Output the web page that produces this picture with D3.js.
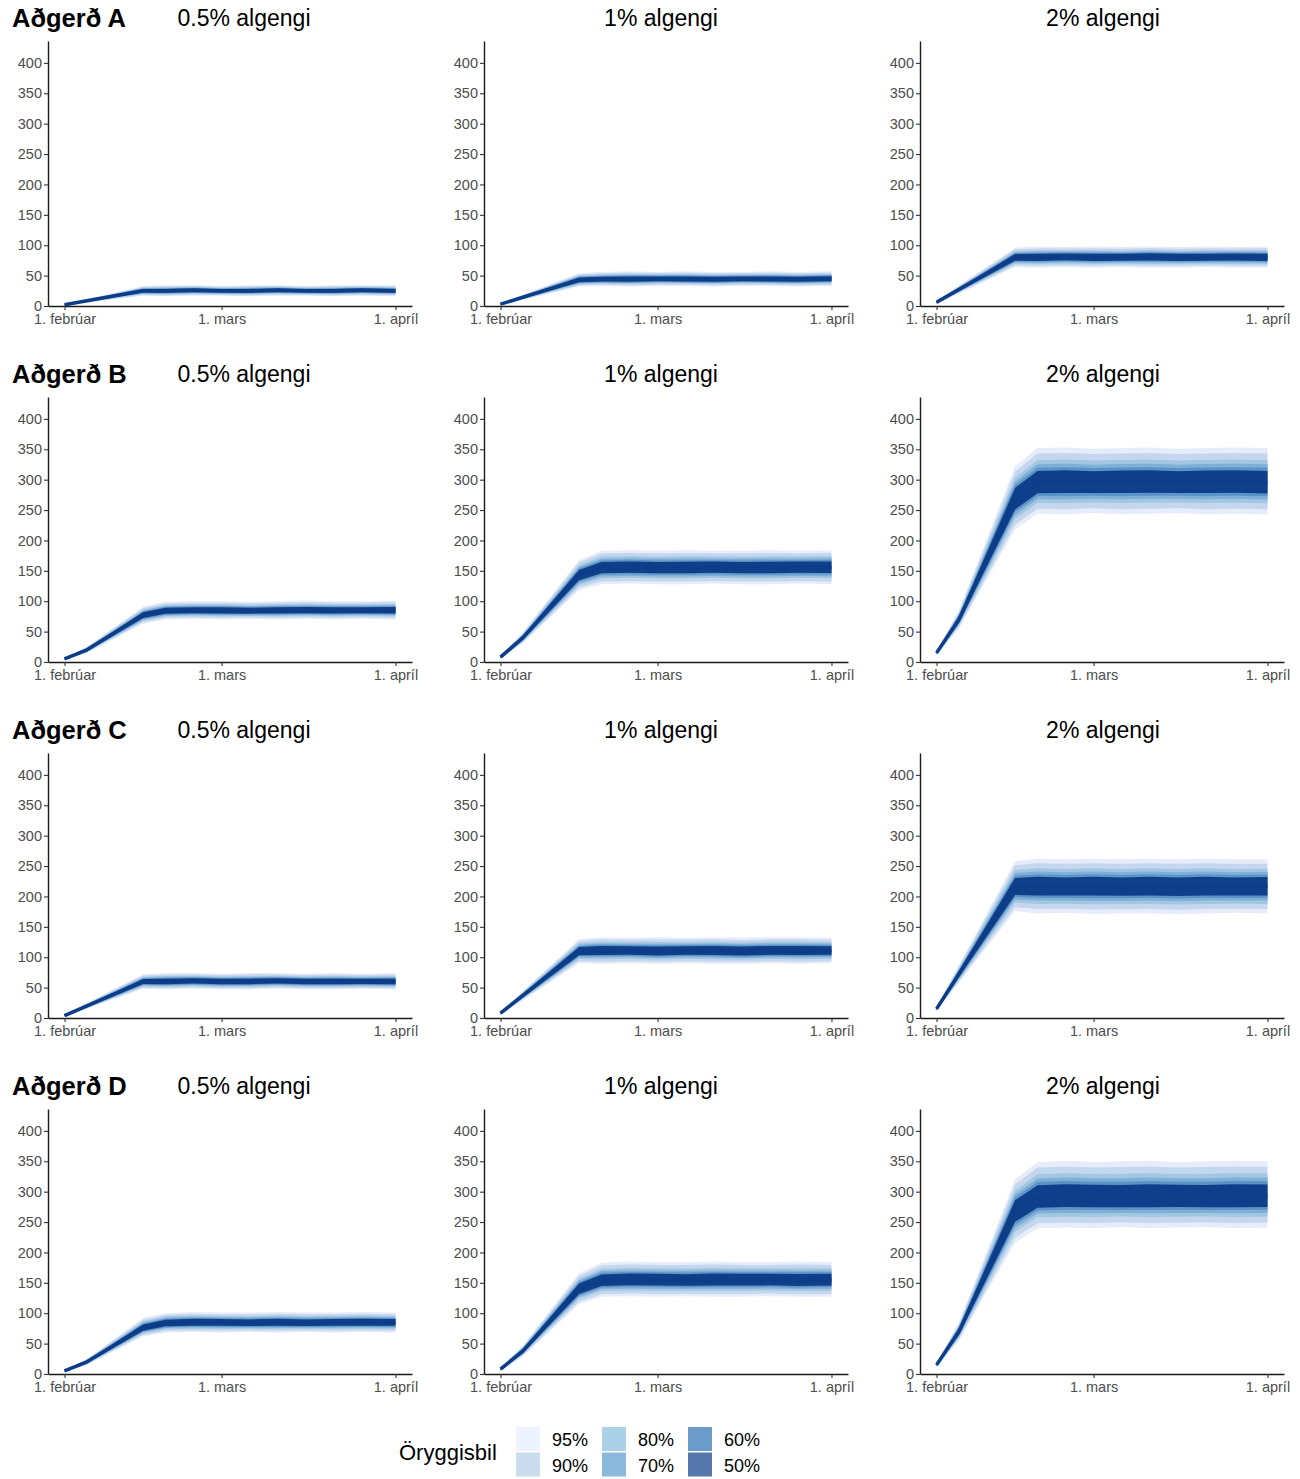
<!DOCTYPE html>
<html>
<head>
<meta charset="utf-8">
<script src="https://cdn.jsdelivr.net/npm/d3@7"></script>
<style>
  body { margin: 0; background: #ffffff; }
  svg text { font-family: "Liberation Sans", Arial, Helvetica, sans-serif; }
</style>
</head>
<body>
<svg id="chart" width="1300" height="1479"></svg>
<script>
// ---- data -------------------------------------------------------------
const measures = ["Aðgerð A", "Aðgerð B", "Aðgerð C", "Aðgerð D"];
const prevalences = ["0.5% algengi", "1% algengi", "2% algengi"];

// simulation days: A and C rise in one step, B and D in two
const datesAC = ["2021-02-01", "2021-02-15", "2021-02-19", "2021-02-24", "2021-03-01", "2021-03-06",
                 "2021-03-11", "2021-03-16", "2021-03-21", "2021-03-26", "2021-04-01"];
const datesBD = ["2021-02-01", "2021-02-05", "2021-02-15", "2021-02-19", "2021-02-24", "2021-03-01",
                 "2021-03-06", "2021-03-11", "2021-03-16", "2021-03-21", "2021-03-26", "2021-04-01"];

// median, upper and lower 95% bounds per panel
const medA05 = [2, 25, 25, 26, 25, 25, 26, 25, 25, 26, 25];
const upA05  = [3, 33, 34, 34, 33, 34, 34, 33, 34, 34, 34];
const dnA05  = [1, 17, 16, 17, 17, 16, 17, 17, 16, 17, 16];
const medA1  = [3, 43, 44, 44, 45, 44, 44, 45, 44, 44, 45];
const upA1   = [5, 54, 56, 57, 56, 57, 56, 56, 57, 56, 57];
const dnA1   = [1, 32, 33, 32, 33, 33, 32, 33, 33, 32, 33];
const medA2  = [6, 80, 80, 81, 80, 80, 81, 80, 80, 81, 80];
const upA2   = [9, 96, 98, 97, 98, 97, 98, 97, 98, 97, 98];
const dnA2   = [3, 64, 63, 64, 63, 64, 63, 63, 64, 63, 63];

const medB05 = [5, 20, 77, 84, 85, 85, 84, 85, 85, 85, 85, 85];
const upB05  = [7, 25, 91, 99, 100, 100, 99, 100, 101, 100, 100, 101];
const dnB05  = [3, 15, 63, 70, 71, 70, 71, 70, 71, 70, 71, 70];
const medB1  = [8, 40, 143, 155, 156, 155, 155, 156, 155, 155, 156, 156];
const upB1   = [11, 49, 168, 183, 184, 183, 184, 183, 183, 184, 183, 184];
const dnB1   = [5, 31, 118, 128, 129, 128, 128, 129, 128, 128, 129, 128];
const medB2  = [15, 70, 268, 295, 296, 295, 296, 296, 295, 296, 296, 295];
const upB2   = [19, 85, 322, 352, 353, 351, 352, 353, 351, 352, 353, 352];
const dnB2   = [11, 55, 218, 244, 243, 245, 243, 244, 245, 243, 244, 243];

const medC05 = [4, 60, 60, 61, 60, 60, 61, 60, 60, 60, 60];
const upC05  = [6, 72, 74, 74, 73, 74, 74, 73, 74, 73, 74];
const dnC05  = [2, 48, 47, 48, 47, 47, 48, 47, 47, 48, 47];
const medC1  = [8, 110, 111, 111, 110, 111, 111, 110, 111, 111, 111];
const upC1   = [11, 130, 133, 132, 133, 132, 133, 132, 133, 133, 132];
const dnC1   = [5, 90, 89, 90, 89, 90, 89, 89, 90, 89, 90];
const medC2  = [15, 216, 217, 216, 217, 216, 217, 216, 217, 216, 217];
const upC2   = [19, 258, 262, 261, 262, 261, 262, 261, 262, 261, 261];
const dnC2   = [11, 176, 172, 173, 171, 172, 172, 171, 172, 173, 172];

const medD05 = [5, 20, 76, 84, 85, 85, 84, 85, 84, 85, 85, 85];
const upD05  = [7, 25, 92, 100, 102, 101, 101, 102, 101, 101, 102, 101];
const dnD05  = [3, 15, 62, 68, 69, 68, 69, 68, 69, 68, 69, 68];
const medD1  = [8, 38, 140, 154, 155, 155, 154, 155, 155, 155, 154, 155];
const upD1   = [11, 47, 166, 183, 185, 184, 184, 185, 184, 184, 185, 184];
const dnD1   = [5, 29, 115, 127, 128, 127, 128, 127, 127, 128, 127, 127];
const medD2  = [15, 70, 268, 291, 292, 292, 291, 292, 292, 291, 292, 292];
const upD2   = [19, 85, 320, 349, 351, 349, 350, 351, 349, 350, 351, 350];
const dnD2   = [11, 55, 216, 240, 241, 240, 242, 240, 241, 242, 240, 241];

// interval levels and the width of each relative to the 95% interval
const levels = ["95%", "90%", "80%", "70%", "60%", "50%"];
const levelShare = [1, 0.84, 0.65, 0.53, 0.43, 0.34];

const yTicks = [0, 50, 100, 150, 200, 250, 300, 350, 400];
const xTicks = ["2021-02-01", "2021-03-01", "2021-04-01"];
const xTickLabels = ["1. febrúar", "1. mars", "1. apríl"];

// ---- styles -----------------------------------------------------------
const bandColors   = ["#e7ecfa", "#c5d7ee", "#a3c6e2", "#7fafd6", "#5a93c6", "#0f3f8a"];
const legendColors = ["#eff3ff", "#c9ddef", "#abd1e6", "#8bb9db", "#6a9bc9", "#5677ab"];
const medianColor = "#0e3d88";

// ---- assemble panels ----------------------------------------------------
const parse = d3.utcParse("%Y-%m-%d");
const series = [
  [[datesAC, medA05, upA05, dnA05], [datesAC, medA1, upA1, dnA1], [datesAC, medA2, upA2, dnA2]],
  [[datesBD, medB05, upB05, dnB05], [datesBD, medB1, upB1, dnB1], [datesBD, medB2, upB2, dnB2]],
  [[datesAC, medC05, upC05, dnC05], [datesAC, medC1, upC1, dnC1], [datesAC, medC2, upC2, dnC2]],
  [[datesBD, medD05, upD05, dnD05], [datesBD, medD1, upD1, dnD1], [datesBD, medD2, upD2, dnD2]]
];

// ---- layout -------------------------------------------------------------
const panelW = 364, panelH = 265;
const colX = [48, 484, 920];
const rowY = [41, 397, 753, 1109];
const subtitleX = [244, 661, 1103];

const svg = d3.select("#chart");

const x0 = parse(xTicks[0]), x1 = parse(xTicks[2]);
const pad = (x1 - x0) * 0.05;
const x = d3.scaleUtc()
  .domain([new Date(+x0 - pad), new Date(+x1 + pad)])
  .range([0, panelW]);
const y = d3.scaleLinear().domain([0, 436]).range([panelH, 0]);

const area = share => d3.area()
  .x(d => x(d.date))
  .y0(d => y(d.med - (d.med - d.dn) * share))
  .y1(d => y(d.med + (d.up - d.med) * share));
const line = d3.line().x(d => x(d.date)).y(d => y(d.med));

series.forEach((row, r) => {
  row.forEach((s, c) => {
    const [dates, med, up, dn] = s;
    const data = dates.map((dt, i) => ({ date: parse(dt), med: med[i], up: up[i], dn: dn[i] }));
    const g = svg.append("g").attr("transform", `translate(${colX[c]},${rowY[r]})`);

    levels.forEach((lv, k) => {
      g.append("path")
        .datum(data)
        .attr("d", area(levelShare[k]))
        .attr("fill", bandColors[k]);
    });
    g.append("path")
      .datum(data)
      .attr("d", line)
      .attr("fill", "none")
      .attr("stroke", medianColor)
      .attr("stroke-width", 3.5)
      .attr("stroke-linejoin", "round");

    const ya = g.append("g")
      .call(d3.axisLeft(y).tickValues(yTicks).tickSize(4).tickSizeOuter(0).tickPadding(2));
    const xa = g.append("g").attr("transform", `translate(0,${panelH})`)
      .call(d3.axisBottom(x).tickValues(xTicks.map(parse)).tickSize(4).tickSizeOuter(0).tickPadding(4)
        .tickFormat((d, i) => xTickLabels[i]));
    [ya, xa].forEach(a => {
      a.select(".domain").attr("stroke", "#1a1a1a").attr("stroke-width", 1.4);
      a.selectAll(".tick line").attr("stroke", "#333333").attr("stroke-width", 1.1);
      a.selectAll(".tick text").attr("fill", "#4d4d4d").style("font-size", "14.5px");
    });

    svg.append("text")
      .attr("x", subtitleX[c]).attr("y", rowY[r] - 15)
      .attr("text-anchor", "middle")
      .style("font-size", "23px").attr("fill", "#000")
      .text(prevalences[c]);
    if (c === 0) {
      svg.append("text")
        .attr("x", 12).attr("y", rowY[r] - 14)
        .style("font-size", "25.5px").style("font-weight", "bold").attr("fill", "#000")
        .text(measures[r]);
    }
  });
});

// ---- legend -------------------------------------------------------------
const legend = svg.append("g");
legend.append("text")
  .attr("x", 399).attr("y", 1460)
  .style("font-size", "22px").attr("fill", "#000")
  .text("Öryggisbil");
levels.forEach((lv, k) => {
  const col = Math.floor(k / 2), row = k % 2;
  const lx = 516 + col * 86, ly = 1427 + row * 25.5;
  legend.append("rect")
    .attr("x", lx).attr("y", ly).attr("width", 24).attr("height", 24)
    .attr("fill", legendColors[k]);
  legend.append("text")
    .attr("x", lx + 36).attr("y", ly + 19)
    .style("font-size", "18px").attr("fill", "#000")
    .text(lv);
});
</script>
</body>
</html>
